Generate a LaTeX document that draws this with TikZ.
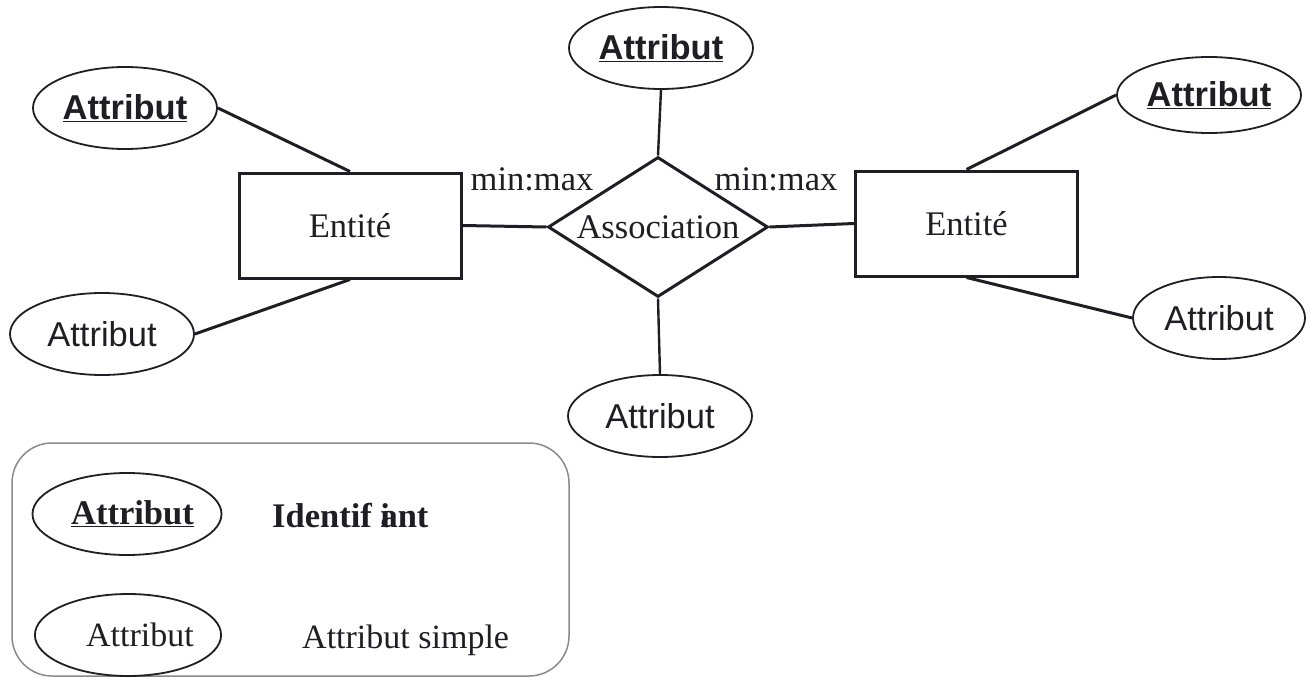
\documentclass[tikz,border=0pt]{standalone}
\usepackage{fontspec}
\setmainfont{Liberation Serif}
\setsansfont{Liberation Sans}
\usetikzlibrary{shapes.geometric}

\definecolor{ink}{HTML}{1E1E24}
\definecolor{frame}{HTML}{8A8A8A}

\tikzset{
  base/.style={font=\fontsize{34.5pt}{40pt}\selectfont, text=ink},
  entity/.style={base, draw=ink, line width=3pt, rectangle, inner sep=0pt,
    minimum width=222pt, minimum height=105pt},
  relation/.style={base, draw=ink, line width=3pt, diamond, inner sep=0pt,
    aspect=1.571, minimum width=220pt, minimum height=140pt},
  attr/.style={base, draw=ink, line width=1.8pt, ellipse, inner sep=0pt,
    minimum width=184pt, minimum height=82pt, font=\fontsize{34.5pt}{40pt}\selectfont\sffamily},
  keyattr/.style={attr, font=\fontsize{34.5pt}{40pt}\selectfont\sffamily\bfseries},
  legattr/.style={attr, font=\fontsize{34pt}{40pt}\selectfont\rmfamily},
  link/.style={draw=ink, line width=3pt},
  thinlink/.style={draw=ink, line width=2.4pt},
  card/.style={base, inner sep=0pt, anchor=base},
  legtext/.style={base, inner sep=0pt, anchor=base west, font=\fontsize{34pt}{40pt}\selectfont\rmfamily},
}

\begin{document}
\begin{tikzpicture}[x=1pt, y=-1pt]
  \useasboundingbox (0,0) rectangle (1309,677);

  % entities and the association between them
  \node[entity]   (lrect) at (350,225.5) {Entité};
  \node[entity]   (rrect) at (966.5,223.5) {Entité};
  \node[relation] (assoc) at (658,227) {Association};

  % attributes
  \node[keyattr] (la1) at (125,108) {\underline{Attribut}};
  \node[attr]    (la2) at (102,334) {Attribut};
  \node[keyattr] (ta)  at (661,48)  {\underline{Attribut}};
  \node[attr]    (ba)  at (660,416) {Attribut};
  \node[keyattr, minimum height=76pt] (ra1) at (1209,95) {\underline{Attribut}};
  \node[attr, minimum width=172pt]    (ra2) at (1219,318) {Attribut};

  % cardinalities
  \node[card] (mm1) at (532,190) {min:max};
  \node[card] (mm2) at (776,190) {min:max};

  % connectors
  \draw[link] (lrect.east) -- (assoc.west);
  \draw[link] (assoc.east) -- (rrect.west);
  \draw[link] (la1.east) -- (lrect.north);
  \draw[link] (la2.east) -- (lrect.south);
  \draw[link] (ra1.west) -- (rrect.north);
  \draw[link] (ra2.west) -- (rrect.south);
  \draw[thinlink] (ta.south) -- (assoc.north);
  \draw[thinlink] (assoc.south) -- (ba.north);

  % legend
  \node[draw=frame, line width=1.5pt, rounded corners=40pt, inner sep=0pt,
        minimum width=557pt, minimum height=233pt] (legend) at (290.5,559.5) {};
  \node[legattr, font=\fontsize{34.5pt}{40pt}\selectfont\rmfamily\bfseries]
        (lk) at (127,514) {\hspace*{11pt}\underline{Attribut}};
  \node[legattr] (ls) at (128,635) {\hspace*{24pt}Attribut};
  \node[legtext, font=\fontsize{34.5pt}{40pt}\selectfont\rmfamily\bfseries]
        (lkt) at (272,527) {Identif \rlap{i}ant};
  \node[legtext] (lst) at (302,648) {Attribut simple};
\end{tikzpicture}
\end{document}
